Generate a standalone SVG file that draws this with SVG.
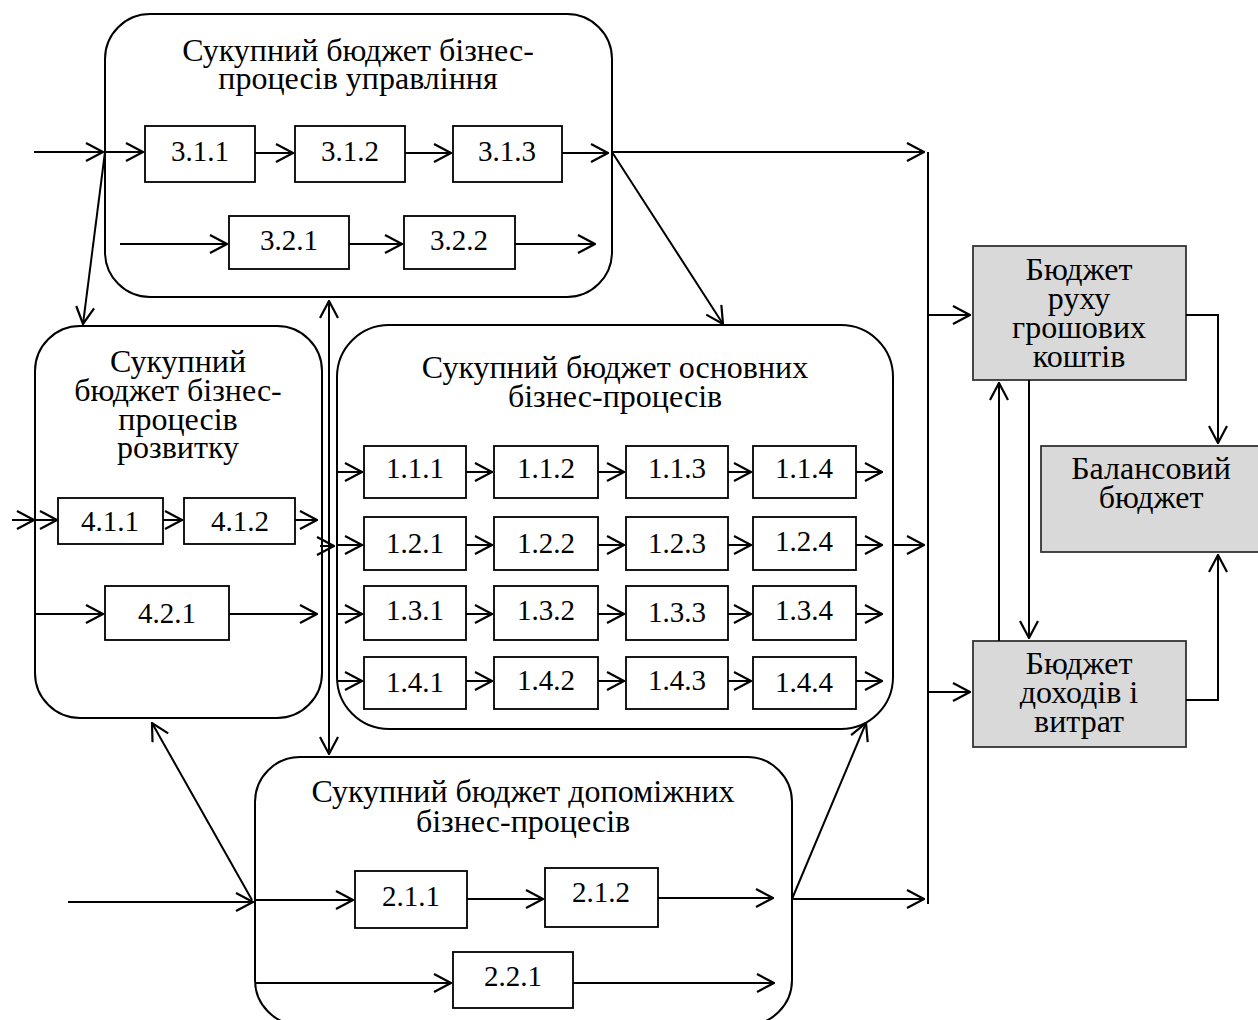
<svg xmlns="http://www.w3.org/2000/svg" width="1258" height="1020" viewBox="0 0 1258 1020">
  <defs>
    <marker id="arr" viewBox="0 0 20 20" markerWidth="20" markerHeight="20" refX="19" refY="10" orient="auto-start-reverse" markerUnits="userSpaceOnUse">
      <path d="M2,1 L19,10 L2,19" fill="none" stroke="#000" stroke-width="2.2"/>
    </marker>
    <style>
      text { font-family: "Liberation Serif", "Times New Roman", serif; fill: #000; text-anchor: middle; }
      .ttl { font-size: 32px; }
      .num { font-size: 29px; }
      .grp { fill: #fff; stroke: #000; stroke-width: 2; }
      .box { fill: #fff; stroke: #000; stroke-width: 1.8; }
      .fin { fill: #d9d9d9; stroke: #333; stroke-width: 1.8; }
      .c { fill: none; stroke: #000; stroke-width: 2; }
      .a { fill: none; stroke: #000; stroke-width: 2; marker-end: url(#arr); }
    </style>
  </defs>
  <rect width="1258" height="1020" fill="#fff"/>

  <!-- Management processes -->
  <g id="mgmt">
    <rect class="grp" x="105" y="14" width="507" height="283" rx="45"/>
    <text class="ttl" x="358" y="61">Сукупний бюджет бізнес-</text>
    <text class="ttl" x="358" y="89">процесів управління</text>
    <g id="n311"><rect class="box" x="145" y="126" width="110" height="56"/><text class="num" x="200" y="161">3.1.1</text></g>
    <g id="n312"><rect class="box" x="295" y="126" width="110" height="56"/><text class="num" x="350" y="161">3.1.2</text></g>
    <g id="n313"><rect class="box" x="453" y="126" width="109" height="56"/><text class="num" x="507" y="161">3.1.3</text></g>
    <g id="n321"><rect class="box" x="229" y="216" width="120" height="53"/><text class="num" x="289" y="250">3.2.1</text></g>
    <g id="n322"><rect class="box" x="404" y="216" width="111" height="53"/><text class="num" x="459" y="250">3.2.2</text></g>
  </g>

  <!-- Development processes -->
  <g id="dev">
    <rect class="grp" x="35" y="326" width="287" height="392" rx="45"/>
    <text class="ttl" x="178" y="372">Сукупний</text>
    <text class="ttl" x="178" y="401">бюджет бізнес-</text>
    <text class="ttl" x="178" y="430">процесів</text>
    <text class="ttl" x="178" y="458">розвитку</text>
    <g id="n411"><rect class="box" x="58" y="498" width="105" height="46"/><text class="num" x="110" y="531">4.1.1</text></g>
    <g id="n412"><rect class="box" x="184" y="498" width="111" height="46"/><text class="num" x="240" y="531">4.1.2</text></g>
    <g id="n421"><rect class="box" x="105" y="586" width="124" height="54"/><text class="num" x="167" y="623">4.2.1</text></g>
  </g>

  <!-- Core processes -->
  <g id="core">
    <rect class="grp" x="337" y="325" width="556" height="404" rx="52"/>
    <text class="ttl" x="615" y="378">Сукупний бюджет основних</text>
    <text class="ttl" x="615" y="407">бізнес-процесів</text>
    <g id="n111"><rect class="box" x="364" y="446" width="102" height="52"/><text class="num" x="415" y="478">1.1.1</text></g>
    <g id="n112"><rect class="box" x="494" y="446" width="104" height="52"/><text class="num" x="546" y="478">1.1.2</text></g>
    <g id="n113"><rect class="box" x="626" y="446" width="102" height="52"/><text class="num" x="677" y="478">1.1.3</text></g>
    <g id="n114"><rect class="box" x="753" y="446" width="103" height="52"/><text class="num" x="804" y="478">1.1.4</text></g>
    <g id="n121"><rect class="box" x="364" y="517" width="102" height="53"/><text class="num" x="415" y="553">1.2.1</text></g>
    <g id="n122"><rect class="box" x="494" y="517" width="104" height="53"/><text class="num" x="546" y="553">1.2.2</text></g>
    <g id="n123"><rect class="box" x="626" y="517" width="102" height="53"/><text class="num" x="677" y="553">1.2.3</text></g>
    <g id="n124"><rect class="box" x="753" y="517" width="103" height="53"/><text class="num" x="804" y="551">1.2.4</text></g>
    <g id="n131"><rect class="box" x="364" y="586" width="102" height="54"/><text class="num" x="415" y="620">1.3.1</text></g>
    <g id="n132"><rect class="box" x="494" y="586" width="104" height="54"/><text class="num" x="546" y="620">1.3.2</text></g>
    <g id="n133"><rect class="box" x="626" y="586" width="102" height="54"/><text class="num" x="677" y="622">1.3.3</text></g>
    <g id="n134"><rect class="box" x="753" y="586" width="103" height="54"/><text class="num" x="804" y="620">1.3.4</text></g>
    <g id="n141"><rect class="box" x="364" y="657" width="102" height="52"/><text class="num" x="415" y="692">1.4.1</text></g>
    <g id="n142"><rect class="box" x="494" y="657" width="104" height="52"/><text class="num" x="546" y="690">1.4.2</text></g>
    <g id="n143"><rect class="box" x="626" y="657" width="102" height="52"/><text class="num" x="677" y="690">1.4.3</text></g>
    <g id="n144"><rect class="box" x="753" y="657" width="103" height="52"/><text class="num" x="804" y="692">1.4.4</text></g>
  </g>

  <!-- Auxiliary processes -->
  <g id="aux">
    <rect class="grp" x="255" y="757" width="537" height="268" rx="45"/>
    <text class="ttl" x="523" y="802">Сукупний бюджет допоміжних</text>
    <text class="ttl" x="523" y="832">бізнес-процесів</text>
    <g id="n211"><rect class="box" x="355" y="871" width="112" height="57"/><text class="num" x="411" y="906">2.1.1</text></g>
    <g id="n212"><rect class="box" x="545" y="868" width="113" height="59"/><text class="num" x="601" y="902">2.1.2</text></g>
    <g id="n221"><rect class="box" x="453" y="952" width="120" height="56"/><text class="num" x="513" y="986">2.2.1</text></g>
  </g>

  <!-- Financial budgets -->
  <g id="cash">
    <rect class="fin" x="973" y="246" width="213" height="134"/>
    <text class="ttl" x="1079" y="280">Бюджет</text>
    <text class="ttl" x="1079" y="309">руху</text>
    <text class="ttl" x="1079" y="338">грошових</text>
    <text class="ttl" x="1079" y="367">коштів</text>
  </g>
  <g id="balance">
    <rect class="fin" x="1041" y="446" width="221" height="106"/>
    <text class="ttl" x="1151" y="479">Балансовий</text>
    <text class="ttl" x="1151" y="508">бюджет</text>
  </g>
  <g id="pnl">
    <rect class="fin" x="973" y="641" width="213" height="106"/>
    <text class="ttl" x="1079" y="674">Бюджет</text>
    <text class="ttl" x="1079" y="703">доходів і</text>
    <text class="ttl" x="1079" y="732">витрат</text>
  </g>

  <!-- Connectors -->
  <g id="connectors">
    <!-- management flows -->
    <line class="a" x1="34" y1="152" x2="103" y2="152"/>
    <line class="a" x1="105" y1="152" x2="143" y2="152"/>
    <line class="a" x1="255" y1="153" x2="293" y2="153"/>
    <line class="a" x1="405" y1="153" x2="451" y2="153"/>
    <line class="a" x1="562" y1="153" x2="608" y2="153"/>
    <line class="a" x1="612" y1="152" x2="924" y2="152"/>
    <line class="a" x1="120" y1="244" x2="227" y2="244"/>
    <line class="a" x1="349" y1="244" x2="402" y2="244"/>
    <line class="a" x1="515" y1="244" x2="595" y2="244"/>
    <line class="a" x1="105" y1="152" x2="83" y2="324"/>
    <line class="a" x1="612" y1="152" x2="723" y2="324"/>
    <!-- collector bus -->
    <line class="c" x1="928" y1="152" x2="928" y2="904"/>
    <!-- two-way link between groups -->
    <line class="a" x1="329" y1="301" x2="329" y2="754" style="marker-start:url(#arr)"/>
    <!-- development flows -->
    <line class="a" x1="12" y1="520" x2="34" y2="520"/>
    <line class="a" x1="34" y1="520" x2="57" y2="520"/>
    <line class="a" x1="163" y1="520" x2="182" y2="520"/>
    <line class="a" x1="295" y1="520" x2="317" y2="520"/>
    <line class="a" x1="35" y1="614" x2="103" y2="614"/>
    <line class="a" x1="229" y1="614" x2="317" y2="614"/>
    <line class="a" x1="320" y1="546" x2="334" y2="546"/>
    <line class="a" x1="252" y1="900" x2="152" y2="723"/>
    <!-- core flows -->
    <line class="a" x1="337" y1="472" x2="362" y2="472"/>
    <line class="a" x1="466" y1="472" x2="492" y2="472"/>
    <line class="a" x1="598" y1="472" x2="624" y2="472"/>
    <line class="a" x1="728" y1="472" x2="751" y2="472"/>
    <line class="a" x1="856" y1="472" x2="882" y2="472"/>
    <line class="a" x1="337" y1="545" x2="362" y2="545"/>
    <line class="a" x1="466" y1="545" x2="492" y2="545"/>
    <line class="a" x1="598" y1="545" x2="624" y2="545"/>
    <line class="a" x1="728" y1="545" x2="751" y2="545"/>
    <line class="a" x1="856" y1="545" x2="882" y2="545"/>
    <line class="a" x1="893" y1="545" x2="924" y2="545"/>
    <line class="a" x1="337" y1="614" x2="362" y2="614"/>
    <line class="a" x1="466" y1="614" x2="492" y2="614"/>
    <line class="a" x1="598" y1="614" x2="624" y2="614"/>
    <line class="a" x1="728" y1="614" x2="751" y2="614"/>
    <line class="a" x1="856" y1="614" x2="882" y2="614"/>
    <line class="a" x1="337" y1="681" x2="362" y2="681"/>
    <line class="a" x1="466" y1="681" x2="492" y2="681"/>
    <line class="a" x1="598" y1="681" x2="624" y2="681"/>
    <line class="a" x1="728" y1="681" x2="751" y2="681"/>
    <line class="a" x1="856" y1="681" x2="882" y2="681"/>
    <!-- auxiliary flows -->
    <line class="a" x1="68" y1="902" x2="253" y2="902"/>
    <line class="a" x1="255" y1="900" x2="353" y2="900"/>
    <line class="a" x1="467" y1="899" x2="543" y2="899"/>
    <line class="a" x1="658" y1="898" x2="773" y2="898"/>
    <line class="a" x1="792" y1="899" x2="924" y2="899"/>
    <line class="a" x1="792" y1="899" x2="866" y2="723"/>
    <line class="a" x1="255" y1="983" x2="451" y2="983"/>
    <line class="a" x1="573" y1="983" x2="774" y2="983"/>
    <!-- financial flows -->
    <line class="a" x1="928" y1="315" x2="970" y2="315"/>
    <line class="a" x1="928" y1="692" x2="970" y2="692"/>
    <polyline class="a" points="1186,315 1218,315 1218,443"/>
    <polyline class="a" points="1186,700 1218,700 1218,555"/>
    <line class="a" x1="999" y1="641" x2="999" y2="383"/>
    <line class="a" x1="1029" y1="380" x2="1029" y2="638"/>
  </g>
</svg>
